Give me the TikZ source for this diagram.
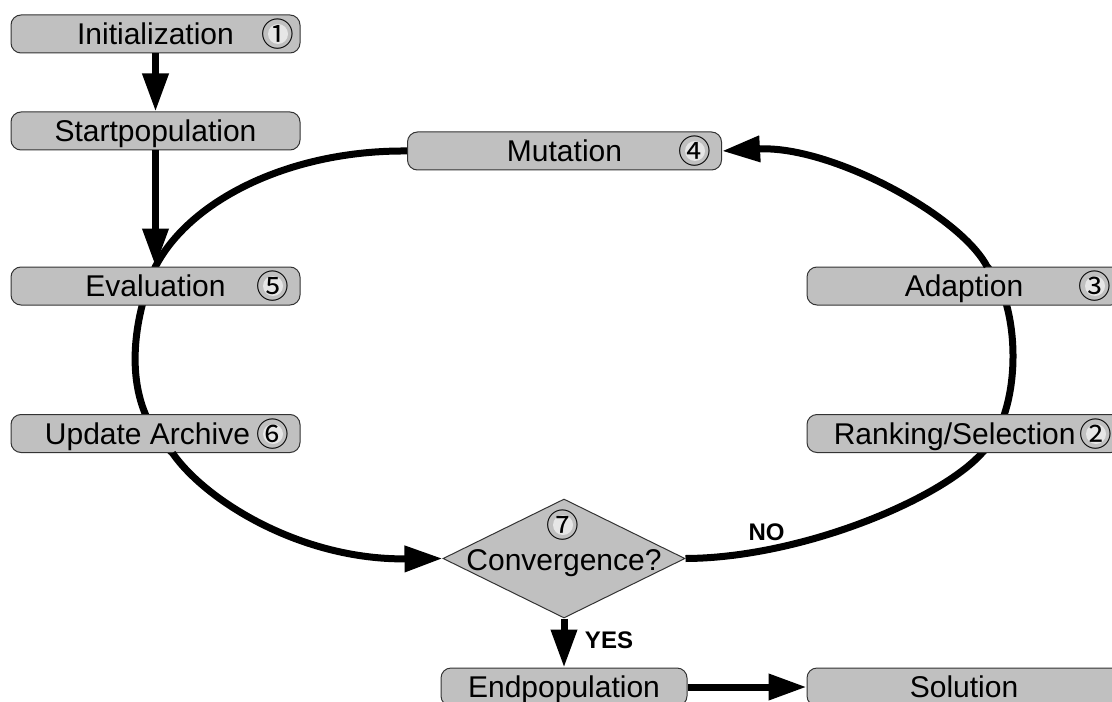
\documentclass[tikz,border=0pt]{standalone}
\usepackage{fontspec}
\setmainfont{Liberation Sans}
\newfontfamily\circfont{Noto Sans CJK SC}
\usetikzlibrary{shapes.geometric,arrows.meta,backgrounds}

\definecolor{boxgray}{RGB}{192,192,192}
\definecolor{edgegray}{RGB}{51,51,51}
\definecolor{numgray}{RGB}{230,230,230}

\tikzset{every picture/.style={line width=0.75pt}}
\tikzset{
  stepbox/.style={draw=edgegray, fill=boxgray, rounded corners=7.5pt,
    minimum width=216.75pt, minimum height=28.5pt, inner sep=0pt,
    text height=16pt, text depth=0pt, font=\fontsize{22.5}{27}\selectfont},
  widebox/.style={stepbox, minimum width=235.5pt},
  decision/.style={diamond, draw=edgegray, fill=boxgray,
    minimum width=181.5pt, minimum height=89.25pt, inner sep=0pt},
  stepdisk/.style={circle, fill=numgray, minimum size=15pt, inner sep=0pt},
  stepnum/.style={inner sep=0pt, font=\circfont\fontsize{24.5}{24.5}\selectfont},
  answer/.style={inner sep=0pt, font=\bfseries\fontsize{18}{18}\selectfont},
  loopline/.style={line width=5.25pt},
  flow/.style={line width=5.25pt, -{Triangle[width=18.75pt,length=28.5pt]}}
}

\begin{document}
\begin{tikzpicture}[x=0.75pt,y=0.75pt,yscale=-1,xscale=1]
\useasboundingbox (0,0) rectangle (1112,702);

%Shape: Rounded Rect
\node[stepbox] (init) at (155.5,34) {Initialization};
\node[stepbox] (start) at (155.5,131) {Startpopulation};
\node[widebox] (mut) at (564.5,151) {Mutation};
\node[stepbox] (eval) at (155.5,286) {Evaluation};
\node[widebox] (adapt) at (964,286) {Adaption};
\node[stepbox] (upd) at (155.5,433.5) {Update Archive\kern12pt};
\node[widebox] (rank) at (964,433.5) {Ranking/Selection\kern14pt};
\node[stepbox, minimum width=184.5pt] (endpop) at (564,687) {Endpopulation};
\node[widebox] (sol) at (964,687) {Solution};
%Shape: Diamond
\node[decision] (conv) at (564,558.5) {};

%Shape: Circle
\node[stepdisk] (d1) at (278,34) {};
\node[stepdisk] (d2) at (1096,434) {};
\node[stepdisk] (d3) at (1095,286) {};
\node[stepdisk] (d4) at (695,151) {};
\node[stepdisk] (d5) at (273,286) {};
\node[stepdisk] (d6) at (273,434) {};
\node[stepdisk] (d7) at (563,525) {};

% Text Node
\node[stepnum] (n1) at (d1) {①};
\node[stepnum] (n2) at (d2) {②};
\node[stepnum] (n3) at (d3) {③};
\node[stepnum] (n4) at (d4) {④};
\node[stepnum] (n5) at (d5) {⑤};
\node[stepnum] (n6) at (d6) {⑥};
\node[stepnum] (n7) at (d7) {⑦};
\node[anchor=base, inner sep=0pt, font=\fontsize{22.5}{27}\selectfont] (convtext) at (564,570) {Convergence?};
\node[answer] (yes) at (609,640) {YES};
\node[answer] (no) at (766.5,532) {NO};

%Straight Lines
\draw[flow] (init) -- (start);
\draw[flow] (start) -- (eval);
\draw[flow] (conv) -- (endpop);
\draw[flow] (endpop) -- (sol);

%Curve Lines
\begin{scope}[on background layer]
\draw[loopline] (mut.west) .. controls (290,150) and (190,200) .. (eval.north)
  .. controls (136,310) and (115,400) .. ([xshift=12.75pt]upd.south);
\draw[loopline] (conv.east) .. controls (800,558) and (940,500) .. ([xshift=13.5pt]rank.south)
  .. controls (1025,410) and (1020,300) .. ([xshift=17.25pt]adapt.north);
\end{scope}
\draw[flow] ([xshift=12.75pt]upd.south) .. controls (205,500) and (300,560) .. (conv.west);
\draw[flow] ([xshift=17.25pt]adapt.north) .. controls (960,215) and (830,145) .. (mut.east);

\end{tikzpicture}
\end{document}
